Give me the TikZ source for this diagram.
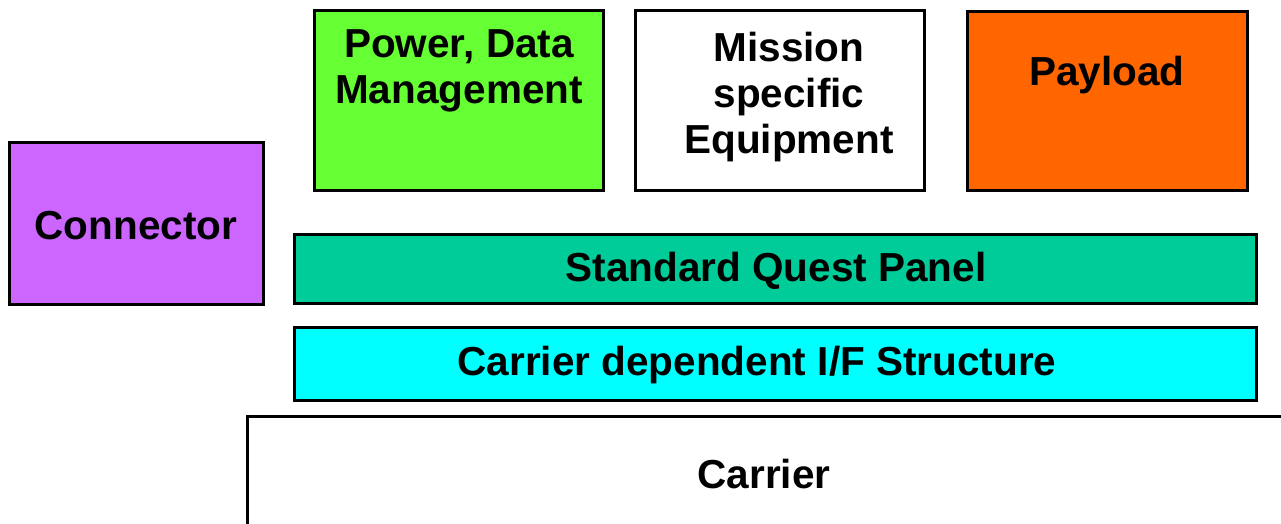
\documentclass[tikz,border=0pt]{standalone}
\usepackage{fontspec}
\setmainfont{Liberation Sans}
\definecolor{conn}{HTML}{CC66FF}
\definecolor{powr}{HTML}{66FF33}
\definecolor{payl}{HTML}{FF6600}
\definecolor{sqp}{HTML}{00CC99}
\definecolor{cdif}{HTML}{00FFFF}
\begin{document}
\begin{tikzpicture}[x=1pt,y=-1pt,
  blk/.style={draw=black,line width=3pt,inner sep=0pt},
  lbl/.style={font=\fontsize{40.5}{46}\selectfont\bfseries,align=center,inner sep=0pt}]
\useasboundingbox (0,0) rectangle (1281,524);
% boxes
\draw[blk,fill=conn] (9,142) rectangle (263,304);
\node[lbl] (connector) at (136,226) {Connector};
\draw[blk,fill=powr] (314,11) rectangle (603,190);
\node[lbl] (power) at (459,71) {Power, Data\\Management};
\draw[blk,fill=white] (635,11) rectangle (924,190);
\node[lbl] (mission) at (789,97) {Mission\\specific\\Equipment};
\draw[blk,fill=payl] (967,12) rectangle (1247,190);
\node[lbl] (payload) at (1107,75) {Payload};
\draw[blk,fill=sqp] (294,234) rectangle (1256,303);
\node[lbl] (sqp) at (776,270.5) {Standard Quest Panel};
\draw[blk,fill=cdif] (294,327) rectangle (1256,400);
\node[lbl] (cdif) at (757,365) {Carrier dependent I/F Structure};
% carrier
\coordinate (cbl) at (247,524);
\coordinate (ctl) at (247,416);
\coordinate (ctr) at (1281,416);
\draw[line width=3pt] (cbl) -- (ctl) -- (ctr);
\node[lbl] (carrier) at (764,474) {Carrier};
\end{tikzpicture}
\end{document}
